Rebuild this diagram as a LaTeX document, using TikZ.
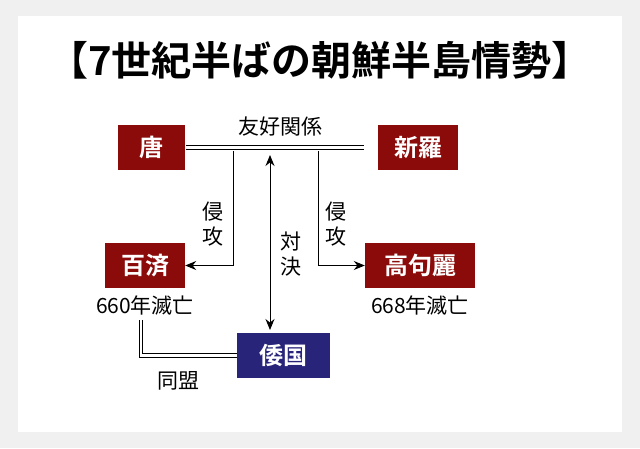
\documentclass[tikz,border=0pt]{standalone}
\usepackage{fontspec}
\newfontfamily\jp{Noto Sans CJK JP}
\newfontfamily\jpb{Noto Sans CJK JP Bold}
\usetikzlibrary{arrows.meta}
\definecolor{dred}{HTML}{8B0A0A}
\definecolor{navy}{HTML}{28247A}
\begin{document}
\begin{tikzpicture}[x=1pt,y=-1pt,
  >={Stealth[length=11pt,width=9pt]},
  redbox/.style={fill=dred,text=white,font=\jpb\fontsize{24}{26}\selectfont,inner sep=0pt,minimum height=45pt},
  lbl/.style={font=\jp\fontsize{21}{23}\selectfont,inner sep=0pt},
  vlbl/.style={font=\jp\fontsize{21}{25}\selectfont,inner sep=0pt,align=center},
  conn/.style={line width=1pt},
  dbl/.style={double,double distance=2.5pt,line width=0.8pt}]
\fill[gray!12] (0,0) rectangle (640,448);
\fill[white] (18,16) rectangle (622,432);
\useasboundingbox (0,0) rectangle (640,448);
\node[font=\jpb\fontsize{40}{42}\selectfont] (title) at (320,60) {【7世紀半ばの朝鮮半島情勢】};
\node[redbox,minimum width=67pt] (tang) at (151.5,147.5) {唐};
\node[redbox,minimum width=80pt] (silla) at (418,147.5) {新羅};
\node[redbox,minimum width=80pt] (baek) at (145,265.5) {百済};
\node[redbox,minimum width=110pt] (goguryeo) at (420,265.5) {高句麗};
\node[redbox,fill=navy,minimum width=93pt] (wa) at (283.5,355.5) {倭国};
\node[lbl] (yuko) at (280,127) {友好関係};
\node[vlbl] (shin1) at (213,224) {侵\\攻};
\node[vlbl] (shin2) at (336,224) {侵\\攻};
\node[vlbl] (taiketsu) at (291,254) {対\\決};
\node[lbl] (d660) at (145,305) {660年滅亡};
\node[lbl] (d668) at (420,305) {668年滅亡};
\node[lbl] (domei) at (178,381) {同盟};
\coordinate (a) at (186,147.5);
\coordinate (b) at (364,147.5);
\draw[dbl] (a) -- (b);
\draw[conn,->] (233,151) |- (baek.east);
\draw[conn,->] (318,151) |- (goguryeo.west);
\draw[conn,<->] (270,155) -- (270,330);
\draw[dbl] (wa.west) -- (141,355.5) -- (141,320);
\end{tikzpicture}
\end{document}
